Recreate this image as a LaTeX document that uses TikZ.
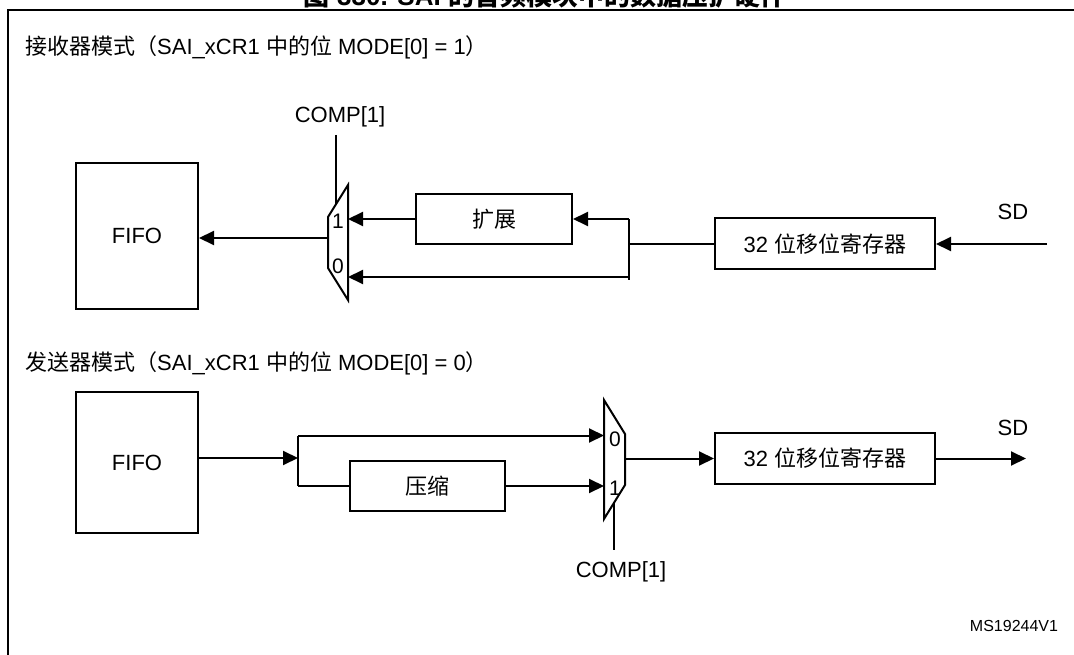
\documentclass[tikz,border=0pt]{standalone}
\usepackage{fontspec}
\setmainfont{Liberation Sans}
\newfontfamily\cjk{Noto Sans CJK SC}
\usetikzlibrary{arrows.meta}
\begin{document}
\begin{tikzpicture}[x=1pt,y=-1pt,
  box/.style={draw, line width=2pt, inner sep=0pt, font=\fontsize{22}{26}\selectfont},
  arr/.style={-{Triangle[length=15pt,width=14pt]}, line width=2pt},
  wire/.style={line width=2pt},
  lbl/.style={inner sep=0pt, font=\fontsize{22}{26}\selectfont},
  digit/.style={inner sep=0pt, font=\fontsize{21}{24}\selectfont},
]
\clip (0,0) rectangle (1074,655);
\fill[white] (0,0) rectangle (1074,655);

% title (cut off at top) and frame
\node[anchor=base, inner sep=0pt, font=\bfseries\fontsize{26}{30}\selectfont] (title) at (545,6) {{\cjk 图} 330. SAI {\cjk 的音频模块中的数据压扩硬件}};
\coordinate (ftl) at (8,10);
\coordinate (ftr) at (1074,10);
\coordinate (fbl) at (8,655);
\draw[wire] (ftr) -- (ftl) -- (fbl);

% headers
\node[lbl, anchor=west] (h1) at (25,47) {{\cjk 接收器模式（}SAI\_xCR1 {\cjk 中的位} MODE[0] = 1{\cjk ）}};
\node[lbl, anchor=west] (h2) at (25,363) {{\cjk 发送器模式（}SAI\_xCR1 {\cjk 中的位} MODE[0] = 0{\cjk ）}};

% ===== receiver =====
\node[box, minimum width=122pt, minimum height=146pt] (fifo1) at (137,236) {FIFO};
\node[box, minimum width=156pt, minimum height=50pt] (expand) at (494,219) {\cjk 扩展};
\node[box, minimum width=220pt, minimum height=51pt] (sr1) at (825,244) {32 {\cjk 位移位寄存器}};
\draw[wire] (348,185) -- (348,300) -- (328,268) -- (328,217) -- cycle;
\node[digit] (m1one) at (338,221) {1};
\node[digit] (m1zero) at (338,266) {0};
\coordinate (m1out) at (328,238);
\coordinate (m1in1) at (348,219);
\coordinate (m1in0) at (348,277);
\coordinate (m1sel) at (336,204);
\node[lbl] (comp1) at (340,117) {COMP[1]};
\coordinate (comp1top) at (336,135);
\draw[wire] (comp1top) -- (m1sel);
\draw[arr] (m1out) -- (m1out -| fifo1.east);
\draw[arr] (expand.west) -- (m1in1);
\coordinate (j1top) at (629,219);
\coordinate (j1mid) at (629,244);
\coordinate (j1low) at (629,277);
\coordinate (j1bot) at (629,280);
\draw[wire] (j1top) -- (j1bot);
\draw[arr] (j1top) -- (expand.east);
\draw[arr] (j1low) -- (m1in0);
\draw[wire] (sr1.west) -- (j1mid);
\coordinate (sdin) at (1047,244);
\draw[arr] (sdin) -- (sr1.east);
\node[lbl] (sd1) at (1013,212) {SD};

% ===== transmitter =====
\node[box, minimum width=122pt, minimum height=141pt] (fifo2) at (137,462.5) {FIFO};
\node[box, minimum width=155pt, minimum height=50pt] (compress) at (427.5,486) {\cjk 压缩};
\node[box, minimum width=220pt, minimum height=51pt] (sr2) at (825,458.5) {32 {\cjk 位移位寄存器}};
\draw[wire] (604,400) -- (625,434) -- (625,485) -- (604,519) -- cycle;
\node[digit] (m2zero) at (615,439) {0};
\node[digit] (m2one) at (615,488) {1};
\coordinate (m2in0) at (604,435.5);
\coordinate (m2in1) at (604,486);
\coordinate (m2out) at (625,458.5);
\coordinate (m2sel) at (614,502);
\coordinate (comp2bot) at (614,550);
\draw[wire] (m2sel) -- (comp2bot);
\node[lbl] (comp2) at (621,572) {COMP[1]};
\coordinate (j2top) at (298,435.5);
\coordinate (j2mid) at (298,458);
\coordinate (j2bot) at (298,486);
\draw[wire] (j2top) -- (j2bot);
\draw[arr] (fifo2.east |- j2mid) -- (j2mid);
\draw[arr] (j2top) -- (m2in0);
\draw[wire] (j2bot) -- (compress.west);
\draw[arr] (compress.east) -- (m2in1);
\draw[arr] (m2out) -- (sr2.west);
\coordinate (sdout) at (1026,458.5);
\draw[arr] (sr2.east) -- (sdout);
\node[lbl] (sd2) at (1013,428) {SD};

\node[inner sep=0pt, font=\fontsize{16}{19}\selectfont] (ms) at (1014,626) {MS19244V1};
\end{tikzpicture}
\end{document}
